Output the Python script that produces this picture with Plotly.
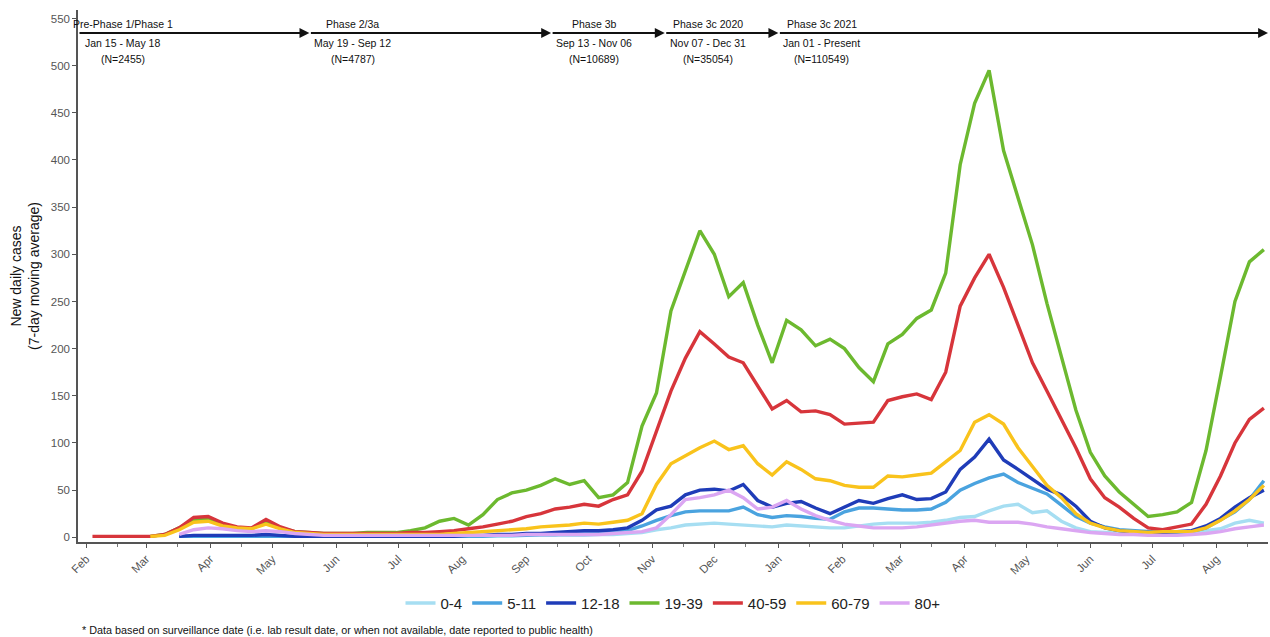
import pandas as pd
import plotly.graph_objects as go

# ---------------- data ----------------
dates = pd.date_range("2020-02-04", periods=82, freq="7D")

age_groups = ["0-4", "5-11", "12-18", "19-39", "40-59", "60-79", "80+"]

age_0_4 = [None]*6 + [
    1, 1, 1, 1, 1, 1,
    1, 1, 1, 1, 1, 1,
    1, 1, 1, 1, 1, 1,
    1, 1, 1, 1, 1, 1,
    2, 2, 2, 2, 2, 3,
    3, 4, 5, 8, 10, 13,
    14, 15, 14, 13, 12, 11,
    13, 12, 11, 10, 10, 12,
    14, 15, 15, 15, 16, 18,
    21, 22, 28, 33, 35, 26,
    28, 17, 10, 6, 5, 5,
    4, 4, 5, 5, 6, 7,
    9, 15, 18, 15]

age_5_11 = [None]*6 + [
    1, 1, 1, 1, 1, 1,
    1, 1, 1, 1, 1, 1,
    1, 1, 1, 1, 1, 1,
    1, 1, 1, 1, 2, 2,
    2, 3, 3, 4, 4, 5,
    6, 7, 12, 18, 23, 27,
    28, 28, 28, 32, 24, 21,
    23, 22, 20, 19, 27, 31,
    31, 30, 29, 29, 30, 37,
    50, 57, 63, 67, 58, 52,
    46, 34, 22, 15, 11, 8,
    7, 6, 5, 5, 6, 10,
    18, 27, 40, 60]

age_12_18 = [None]*6 + [
    1, 2, 2, 2, 2, 2,
    3, 2, 1, 1, 1, 1,
    1, 1, 1, 1, 1, 1,
    1, 1, 2, 2, 3, 3,
    4, 4, 5, 6, 7, 7,
    8, 10, 18, 29, 33, 45,
    50, 51, 49, 56, 39, 32,
    36, 38, 31, 25, 32, 39,
    36, 41, 45, 40, 41, 48,
    72, 85, 104, 82, 72, 62,
    51, 45, 33, 17, 10, 7,
    5, 5, 5, 6, 7, 12,
    20, 32, 42, 50]

age_19_39 = [None]*4 + [
    1, 3, 10, 19, 19, 14,
    10, 9, 17, 10, 6, 5,
    4, 4, 4, 5, 5, 5,
    7, 10, 17, 20, 13, 24,
    40, 47, 50, 55, 62, 56,
    60, 42, 45, 58, 118, 153,
    240, 282, 325, 300, 255, 270,
    225, 185, 230, 220, 203, 210,
    200, 180, 165, 205, 215, 232,
    241, 280, 395, 460, 495, 410,
    360, 310, 248, 190, 135, 90,
    65, 48, 35, 22, 24, 27,
    37, 92, 170, 250, 292, 305]

age_40_59 = [
    1, 1, 1, 1, 1, 3,
    10, 21, 22, 15, 11, 10,
    19, 11, 6, 5, 4, 4,
    4, 4, 4, 4, 5, 5,
    6, 7, 9, 11, 14, 17,
    22, 25, 30, 32, 35, 33,
    40, 45, 70, 112, 155, 190,
    218, 205, 191, 185, 160, 136,
    145, 133, 134, 130, 120, 121,
    122, 145, 149, 152, 146, 175,
    245, 275, 300, 265, 225, 185,
    155, 125, 95, 62, 42, 32,
    20, 10, 8, 11, 14, 35,
    65, 100, 125, 137]

age_60_79 = [None]*4 + [
    1, 2, 8, 16, 17, 12,
    10, 9, 14, 9, 5, 4,
    3, 3, 3, 3, 3, 3,
    3, 3, 3, 4, 5, 6,
    7, 8, 9, 11, 12, 13,
    15, 14, 16, 18, 25, 56,
    78, 87, 95, 102, 93, 97,
    78, 66, 80, 72, 62, 60,
    55, 53, 53, 65, 64, 66,
    68, 80, 92, 122, 130, 120,
    95, 75, 55, 42, 25, 15,
    10, 7, 6, 5, 6, 6,
    6, 10, 18, 28, 40, 55]

age_80_plus = [None]*6 + [
    3, 8, 10, 9, 7, 6,
    7, 6, 4, 3, 2, 2,
    2, 2, 2, 2, 2, 2,
    2, 2, 2, 2, 2, 2,
    3, 3, 3, 3, 3, 3,
    4, 5, 6, 10, 24, 40,
    42, 45, 50, 42, 30, 32,
    39, 30, 23, 18, 14, 12,
    10, 10, 10, 11, 13, 15,
    17, 18, 16, 16, 16, 14,
    11, 9, 7, 5, 4, 3,
    3, 2, 2, 2, 3, 4,
    6, 9, 11, 13]

series = [age_0_4, age_5_11, age_12_18, age_19_39, age_40_59, age_60_79, age_80_plus]
colors = ["#a6def2", "#4aa3df", "#1f3cb8", "#6cb92f", "#d7353b", "#f9c31c", "#dba6f2"]

phase_names = ["Pre-Phase 1/Phase 1", "Phase 2/3a", "Phase 3b", "Phase 3c 2020", "Phase 3c 2021"]
phase_ranges = ["Jan 15 - May 18", "May 19 - Sep 12", "Sep 13 - Nov 06", "Nov 07 - Dec 31", "Jan 01 - Present"]
phase_counts = ["(N=2455)", "(N=4787)", "(N=10689)", "(N=35054)", "(N=110549)"]
phase_starts = ["2020-01-15", "2020-05-19", "2020-09-13", "2020-11-07", "2021-01-01"]

x_start, x_end = "2020-01-28", "2021-08-26"

footnote = "* Data based on surveillance date (i.e. lab result date, or when not available, date reported to public health)"

# ---------------- figure ----------------
FONT = "Liberation Sans, Arial, sans-serif"
fig = go.Figure()
for name, vals, col in zip(age_groups, series, colors):
    fig.add_trace(go.Scatter(x=dates, y=vals, mode="lines", name=name,
                             line=dict(color=col, width=3.4), connectgaps=False))

# approximate Arial text width (em) for label centering
W = {"0": .556, "1": .556, "2": .556, "3": .556, "4": .556, "5": .556, "6": .556, "7": .556,
     "8": .556, "9": .556, " ": .278, "-": .333, "(": .333, ")": .333, "=": .584, "/": .278,
     "N": .722, "P": .667, "J": .5, "M": .833, "S": .667, "D": .722, "r": .333, "t": .278,
     "s": .5, "y": .5, "c": .5, "v": .5, "i": .222, "l": .222}
def tw(s, size):
    return sum(W.get(c, .556) for c in s) * size

PH_FONT = 10.5
ends = phase_starts[1:] + [x_end]
annotations = []
for i, (nm, rg, ct, st, en) in enumerate(zip(phase_names, phase_ranges, phase_counts, phase_starts, ends)):
    a_start = max(st, x_start)
    annotations.append(dict(x=en, y=1, xref="x", yref="paper", ax=a_start, ay=0,
                            axref="x", ayref="pixel", yshift=-23, text="", showarrow=True,
                            arrowhead=2, arrowsize=1.1, arrowwidth=1.8, arrowcolor="#111"))
    maxw = max(tw(nm, PH_FONT), tw(rg, PH_FONT), tw(ct, PH_FONT))
    shift = (-5 if i == 0 else 5) + maxw / 2
    for txt, ys in zip([nm, rg, ct], [-14, -33, -49]):
        annotations.append(dict(x=a_start, y=1, xref="x", yref="paper", xanchor="center",
                                yanchor="middle", xshift=shift, yshift=ys, text=txt,
                                showarrow=False, font=dict(family=FONT, size=PH_FONT, color="#111")))

annotations.append(dict(x=0, y=0, xref="paper", yref="paper", xanchor="left", yanchor="middle",
                        xshift=2, yshift=-88, text=footnote, showarrow=False,
                        font=dict(family=FONT, size=10.8, color="#111")))

fig.update_layout(
    width=1270, height=637,
    margin=dict(l=78, r=2, t=10, b=95),
    paper_bgcolor="white", plot_bgcolor="white",
    font=dict(family=FONT, color="#111"),
    showlegend=True,
    legend=dict(orientation="h", x=0.5, xanchor="center", y=-0.115, yanchor="middle",
                font=dict(family=FONT, size=15, color="#222"), itemwidth=30,
                tracegroupgap=0),
    annotations=annotations,
)
fig.update_xaxes(range=[x_start, x_end], dtick="M1", tick0="2020-02-01", tickformat="%b",
                 tickangle=-45, showline=True, linecolor="#555", linewidth=1.5,
                 ticks="outside", ticklen=4, tickcolor="#555", showgrid=False, zeroline=False,
                 tickfont=dict(family=FONT, size=11.5, color="#555"),
                 minor=dict(ticks="outside", ticklen=3, tick0="2020-01-16", dtick="M1", tickcolor="#777"))
fig.update_yaxes(range=[-5, 559], dtick=50, tick0=0, showline=True, linecolor="#555", linewidth=1.5,
                 ticks="outside", ticklen=4, tickcolor="#555", showgrid=False, zeroline=False,
                 tickfont=dict(family=FONT, size=11.5, color="#555"),
                 title=dict(text="New daily cases<br>(7-day moving average)",
                            font=dict(family=FONT, size=14, color="#111"), standoff=8))

fig.write_html("out.html", config={"displayModeBar": False},
               post_script="document.body.style.margin='0';document.body.style.overflow='hidden';")
